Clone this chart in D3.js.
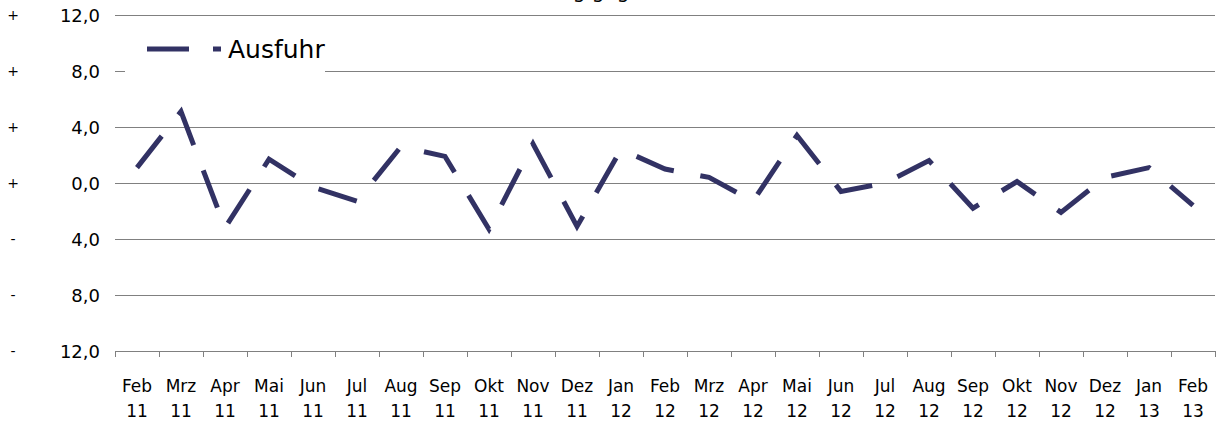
<!DOCTYPE html>
<html>
<head>
<meta charset="utf-8">
<script src="https://cdn.jsdelivr.net/npm/d3@7"></script>
<style>
  body { margin: 0; background: #fff; }
  svg { display: block; font-family: "DejaVu Sans", "Open Sans", sans-serif; }
</style>
</head>
<body>
<div class="container"></div>
<script>
var months = ['Feb', 'Mrz', 'Apr', 'Mai', 'Jun', 'Jul', 'Aug', 'Sep', 'Okt', 'Nov', 'Dez', 'Jan',
    'Feb', 'Mrz', 'Apr', 'Mai', 'Jun', 'Jul', 'Aug', 'Sep', 'Okt', 'Nov', 'Dez', 'Jan', 'Feb'];
var years = ['11', '11', '11', '11', '11', '11', '11', '11', '11', '11', '11', '12',
    '12', '12', '12', '12', '12', '12', '12', '12', '12', '12', '12', '13', '13'];
var ausfuhr = [1.1, 5.1, -3.2, 1.7, -0.3, -1.3, 2.6, 1.9, -3.3, 2.8, -3.1, 2.4,
    1.0, 0.4, -1.3, 3.4, -0.6, 0.0, 1.6, -1.8, 0.1, -2.1, 0.4, 1.1, -1.6];
var yTicks = [12, 8, 4, 0, -4, -8, -12];
var seriesName = 'Ausfuhr';
var titleText = 'Veränderung gegenüber Vormonat in %';

var drawChart = function () {
    var WIDTH = 1220, HEIGHT = 425;
    var LEFT = 115, RIGHT = 1215, TOP = 15, BOTTOM = 351;
    var NAVY = '#323264';

    var svg = d3.select('.container').append('svg')
        .attr('width', WIDTH)
        .attr('height', HEIGHT);

    var xScale = d3.scaleBand()
        .domain(d3.range(months.length))
        .range([LEFT, RIGHT]);

    var yScale = d3.scaleLinear()
        .domain([-12, 12])
        .range([BOTTOM, TOP]);

    // title, cut off at the top edge like the original
    svg.append('text')
        .attr('x', 655)
        .attr('y', -2)
        .attr('text-anchor', 'middle')
        .attr('font-size', 20)
        .attr('fill', '#000')
        .text(titleText);

    // gridlines
    svg.append('g').selectAll('line')
        .data(yTicks.filter(function (d) { return d !== -12; }))
        .enter().append('line')
        .attr('x1', LEFT).attr('x2', RIGHT)
        .attr('y1', function (d) { return yScale(d) + 0.5; })
        .attr('y2', function (d) { return yScale(d) + 0.5; })
        .attr('stroke', '#808080')
        .attr('stroke-width', 1);

    // y labels: sign and absolute value
    var yLab = svg.append('g').attr('fill', '#000');
    yLab.selectAll('text.sign')
        .data(yTicks)
        .enter().append('text')
        .attr('class', 'sign')
        .attr('x', 13)
        .attr('y', function (d) { return yScale(d) + 5; })
        .attr('text-anchor', 'middle')
        .attr('font-size', 14)
        .text(function (d) { return d < 0 ? '-' : '+'; });
    yLab.selectAll('text.val')
        .data(yTicks)
        .enter().append('text')
        .attr('class', 'val')
        .attr('x', 100)
        .attr('y', function (d) { return yScale(d) + 6.5; })
        .attr('text-anchor', 'end')
        .attr('font-size', 18)
        .text(function (d) { return Math.abs(d).toFixed(1).replace('.', ','); });

    // x axis
    var xAxis = svg.append('g');
    xAxis.append('line')
        .attr('x1', LEFT).attr('x2', RIGHT)
        .attr('y1', BOTTOM + 0.5).attr('y2', BOTTOM + 0.5)
        .attr('stroke', '#808080');
    xAxis.selectAll('line.tick')
        .data(d3.range(months.length + 1))
        .enter().append('line')
        .attr('class', 'tick')
        .attr('x1', function (i) { return Math.round(LEFT + i * xScale.step()) + 0.5; })
        .attr('x2', function (i) { return Math.round(LEFT + i * xScale.step()) + 0.5; })
        .attr('y1', BOTTOM).attr('y2', BOTTOM + 6)
        .attr('stroke', '#808080');

    var xLab = xAxis.selectAll('text.lab')
        .data(months)
        .enter().append('text')
        .attr('class', 'lab')
        .attr('font-size', 17)
        .attr('fill', '#000')
        .attr('text-anchor', 'middle');
    xLab.append('tspan')
        .attr('x', function (d, i) { return xScale(i) + xScale.bandwidth() / 2; })
        .attr('y', 392)
        .text(function (d) { return d; });
    xLab.append('tspan')
        .attr('x', function (d, i) { return xScale(i) + xScale.bandwidth() / 2; })
        .attr('y', 417)
        .text(function (d, i) { return years[i]; });

    // series line
    var line = d3.line()
        .x(function (d, i) { return xScale(i) + xScale.bandwidth() / 2; })
        .y(function (d) { return yScale(d); });

    svg.append('path')
        .attr('d', line(ausfuhr))
        .attr('fill', 'none')
        .attr('stroke', NAVY)
        .attr('stroke-width', 5)
        .attr('stroke-dasharray', '40,27')
        .attr('stroke-linejoin', 'miter');

    // legend box
    var legend = svg.append('g');
    legend.append('rect')
        .attr('x', 125).attr('y', 26)
        .attr('width', 200).attr('height', 50)
        .attr('fill', '#fff');
    legend.append('line')
        .attr('x1', 147).attr('x2', 221)
        .attr('y1', 49).attr('y2', 49)
        .attr('stroke', NAVY)
        .attr('stroke-width', 5)
        .attr('stroke-dasharray', '42,24');
    legend.append('text')
        .attr('x', 228)
        .attr('y', 58)
        .attr('font-size', 25)
        .attr('fill', '#000')
        .text(seriesName);
};

window.onload = drawChart;
</script>
</body>
</html>
